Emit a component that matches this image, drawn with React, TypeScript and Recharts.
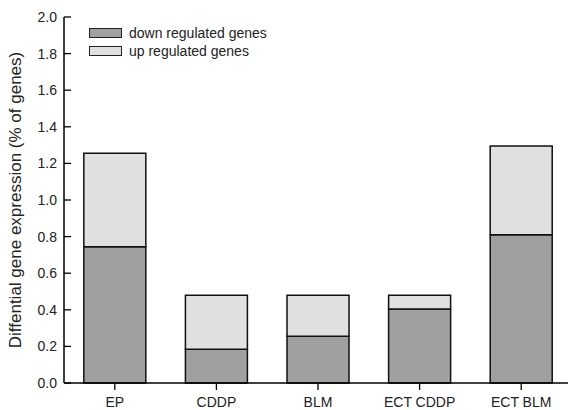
import React from 'react';
import { Bar, BarChart, Legend, XAxis, YAxis } from 'recharts';

const treatments = ['EP', 'CDDP', 'BLM', 'ECT CDDP', 'ECT BLM'];
const downRegulated = [0.745, 0.185, 0.255, 0.405, 0.81];
const upRegulated = [0.51, 0.295, 0.225, 0.075, 0.485];
const yTicks = [0, 0.2, 0.4, 0.6, 0.8, 1.0, 1.2, 1.4, 1.6, 1.8, 2.0];

const data = treatments.map((name, i) => ({ name, down: downRegulated[i], up: upRegulated[i] }));

const FONT = 'Arial, "Liberation Sans", sans-serif';
const TICK_GAP = 7;

// y ticks point inward in the original, recharts only draws them outward
const InwardTick = (props: any) => {
	const { x, y, payload } = props;
	return (
		<g>
			<line x1={x + TICK_GAP} x2={x + TICK_GAP + 7} y1={y} y2={y} stroke='#000' strokeWidth={1.3} />
			<text x={x} y={y} dy={5} textAnchor='end' fill='#222' fontSize={14} fontFamily={FONT}>
				{Number(payload.value).toFixed(1)}
			</text>
		</g>
	);
};

const LegendBox = ({ payload }: any) => (
	<div style={{ fontFamily: FONT, fontSize: 14, color: '#222' }}>
		{(payload || []).map((p: any) => (
			<div key={p.value} style={{ display: 'flex', alignItems: 'center', height: 18 }}>
				<span style={{ display: 'inline-block', width: 31, height: 8, background: p.color, border: '1.5px solid #222', marginRight: 7 }} />
				<span>{p.value}</span>
			</div>
		))}
	</div>
);

export default function App() {
	return (
		<div style={{ position: 'fixed', left: 0, top: 0, width: 568, height: 410, overflow: 'hidden', background: '#fff' }}>
			<BarChart
				width={572}
				height={410}
				data={data}
				margin={{ top: 17, right: 0, left: 0, bottom: 0 }}
				barCategoryGap='19.5%'
			>
				<XAxis
					dataKey='name'
					height={27}
					axisLine={{ stroke: '#000', strokeWidth: 1.5 }}
					tickLine={{ stroke: '#000', strokeWidth: 1.3 }}
					tickSize={7}
					tickMargin={7}
					tick={{ fill: '#222', fontSize: 14, fontFamily: FONT }}
					interval={0}
				/>
				<YAxis
					width={64}
					domain={[0, 2]}
					ticks={yTicks}
					axisLine={{ stroke: '#000', strokeWidth: 1.5 }}
					tickLine={false}
					tickSize={0}
					tickMargin={TICK_GAP}
					tick={<InwardTick />}
					label={{
						value: 'Diffential gene expression (% of genes)',
						angle: -90,
						position: 'insideLeft',
						dx: 10,
						style: { textAnchor: 'middle', fontSize: 17, fontFamily: FONT, fill: '#222' }
					}}
				/>
				<Legend
					layout='vertical'
					verticalAlign='middle'
					align='center'
					wrapperStyle={{ left: 89, top: 24, width: 220 }}
					content={<LegendBox />}
				/>
				<Bar dataKey='down' name='down regulated genes' stackId='a' fill='#a0a0a0' stroke='#111' strokeWidth={1.5} isAnimationActive={false} />
				<Bar dataKey='up' name='up regulated genes' stackId='a' fill='#e0e0e0' stroke='#111' strokeWidth={1.5} isAnimationActive={false} />
			</BarChart>
		</div>
	);
}
